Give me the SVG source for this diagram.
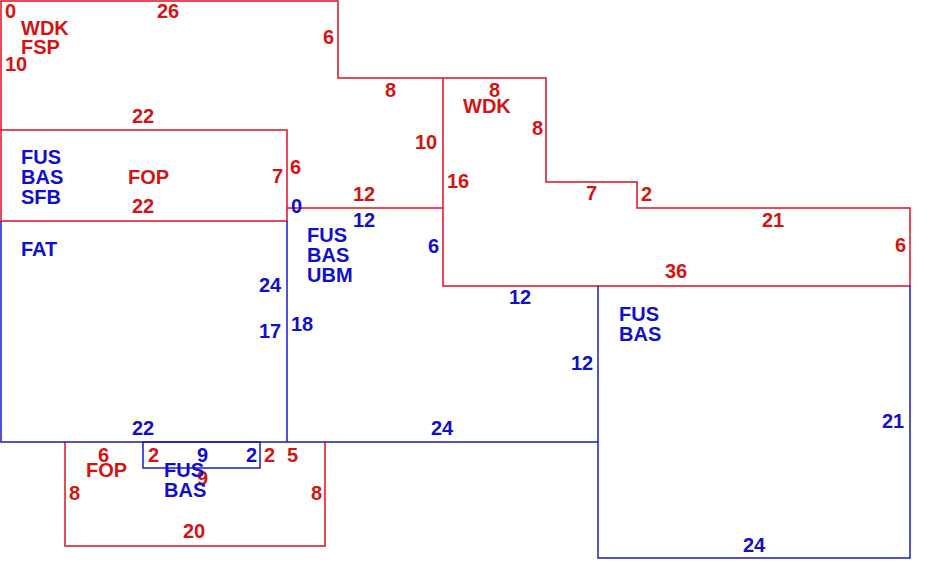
<svg xmlns="http://www.w3.org/2000/svg" width="930" height="575" viewBox="0 0 930 575">
<style>
.r{fill:none;stroke:#dd1122;stroke-width:1.5}
.b{fill:none;stroke:#1a1ac8;stroke-width:1.5}
text{font-family:"Liberation Sans",Arial,sans-serif;font-size:20px;font-weight:bold}
.tr{fill:#d41414}
.tb{fill:#1010c8}
</style>
<rect width="930" height="575" fill="#ffffff"/>
<g id="walls-red">
<path class="r" d="M1,130 V1 H338 V78 H546 V182 H637 V208 H910 V286 H443 V78"/>
<path class="r" d="M287,208 H443"/>
<rect class="r" x="1" y="130" width="286" height="91"/>
<path class="r" d="M65,442 V546 H325 V442"/>
</g>
<g id="walls-blue">
<path class="b" d="M1,221 V442 H598"/>
<path class="b" d="M287,221 V442"/>
<path class="b" d="M598,286 V558 H910 V286"/>
<rect class="b" x="143" y="442" width="117" height="26"/>
</g>
<g id="room-wdk-fsp">
<text class="tr" x="5" y="18">0</text>
<text class="tr" x="157" y="18">26</text>
<text class="tr" x="21" y="35">WDK</text>
<text class="tr" x="21" y="54">FSP</text>
<text class="tr" x="5" y="71">10</text>
<text class="tr" x="323" y="44">6</text>
<text class="tr" x="385" y="97">8</text>
<text class="tr" x="415" y="149">10</text>
<text class="tr" x="132" y="123">22</text>
<text class="tr" x="290" y="174">6</text>
<text class="tr" x="353" y="201">12</text>
</g>
<g id="room-fop-top">
<text class="tb" x="21" y="164">FUS</text>
<text class="tb" x="21" y="184">BAS</text>
<text class="tb" x="21" y="204">SFB</text>
<text class="tr" x="128" y="184">FOP</text>
<text class="tr" x="272" y="183">7</text>
<text class="tr" x="132" y="213">22</text>
</g>
<g id="room-wdk">
<text class="tr" x="489" y="97">8</text>
<text class="tr" x="463" y="113">WDK</text>
<text class="tr" x="532" y="135">8</text>
<text class="tr" x="447" y="188">16</text>
<text class="tr" x="586" y="200">7</text>
<text class="tr" x="641" y="201">2</text>
<text class="tr" x="762" y="227">21</text>
<text class="tr" x="895" y="252">6</text>
<text class="tr" x="665" y="278">36</text>
</g>
<g id="room-fat">
<text class="tb" x="21" y="256">FAT</text>
<text class="tb" x="259" y="292">24</text>
<text class="tb" x="259" y="338">17</text>
<text class="tb" x="132" y="435">22</text>
</g>
<g id="room-ubm">
<text class="tb" x="291" y="213">0</text>
<text class="tb" x="353" y="227">12</text>
<text class="tb" x="307" y="242">FUS</text>
<text class="tb" x="307" y="262">BAS</text>
<text class="tb" x="307" y="282">UBM</text>
<text class="tb" x="428" y="253">6</text>
<text class="tb" x="291" y="331">18</text>
<text class="tb" x="509" y="304">12</text>
<text class="tb" x="571" y="370">12</text>
<text class="tb" x="431" y="435">24</text>
</g>
<g id="room-fop-bottom">
<text class="tr" x="98" y="462">6</text>
<text class="tr" x="86" y="477">FOP</text>
<text class="tr" x="148" y="462">2</text>
<text class="tb" x="197" y="462">9</text>
<text class="tb" x="246" y="462">2</text>
<text class="tr" x="264" y="462">2</text>
<text class="tr" x="287" y="462">5</text>
<text class="tr" x="197" y="485">9</text>
<text class="tb" x="164" y="477">FUS</text>
<text class="tb" x="164" y="497">BAS</text>
<text class="tr" x="69" y="500">8</text>
<text class="tr" x="311" y="500">8</text>
<text class="tr" x="183" y="538">20</text>
</g>
<g id="room-fus-bas">
<text class="tb" x="619" y="321">FUS</text>
<text class="tb" x="619" y="341">BAS</text>
<text class="tb" x="882" y="428">21</text>
<text class="tb" x="743" y="552">24</text>
</g>
</svg>
